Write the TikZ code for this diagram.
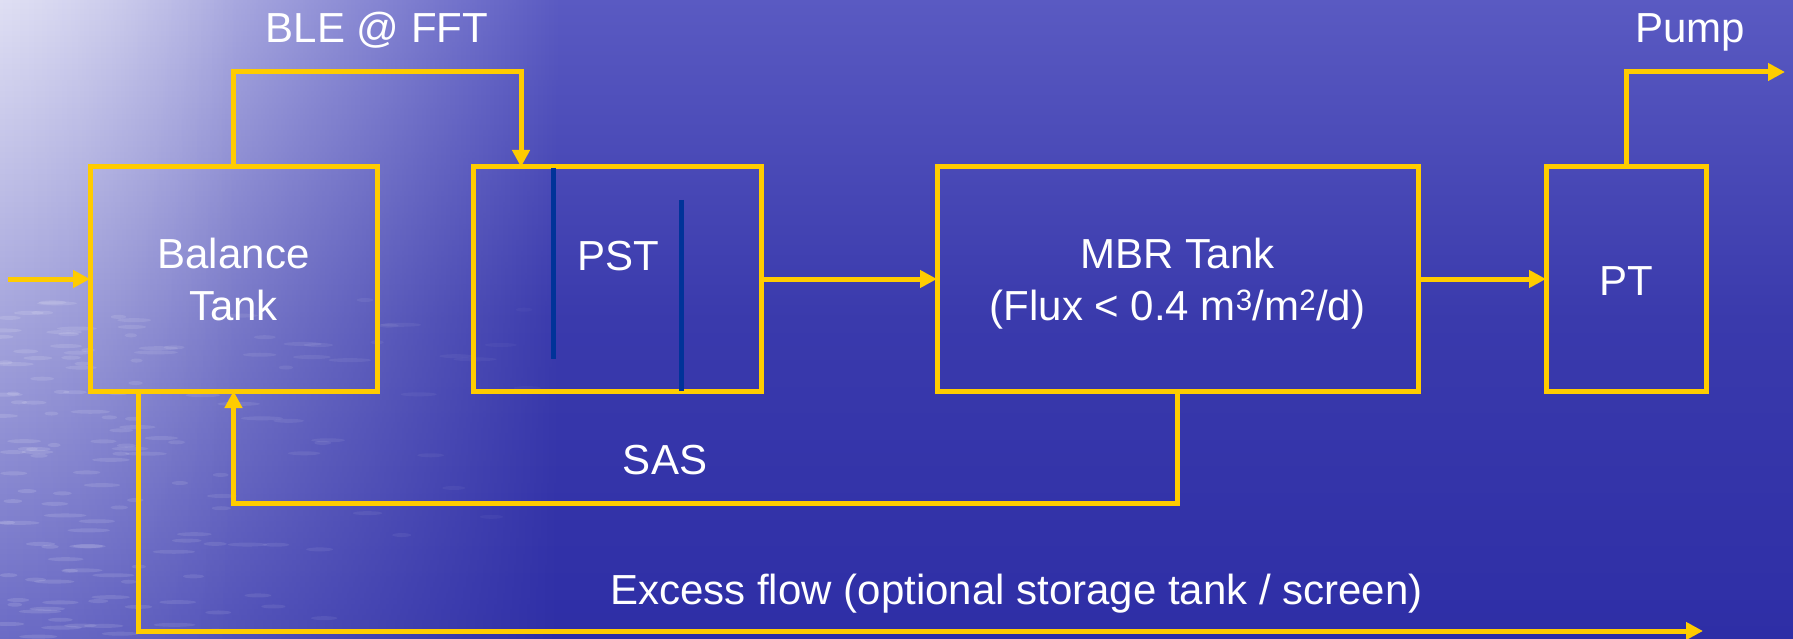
\documentclass[tikz,border=0pt]{standalone}
\usepackage{fontspec}
\setmainfont{Liberation Sans}
\usetikzlibrary{arrows.meta,fadings,calc}
\definecolor{pipeyellow}{HTML}{FFCC00}
\definecolor{baffleblue}{HTML}{003399}
\definecolor{seatop}{HTML}{5A5AC2}
\definecolor{seamid}{HTML}{3A3AAC}
\definecolor{seabot}{HTML}{2E2EA6}
\definecolor{haze}{HTML}{E0E0F4}
\definecolor{hazelow}{HTML}{6C6CC6}
\tikzfading[name=fadetoeast, left color=transparent!0, right color=transparent!100]

\begin{document}
\begin{tikzpicture}[x=1pt, y=-1pt,
  tank/.style={draw=pipeyellow, line width=5pt, minimum height=224pt,
               inner sep=0pt, outer sep=0pt},
  duct/.style={draw=pipeyellow, line width=5pt, line join=miter},
  flowarrow/.style={duct, -{Triangle[length=17pt,width=17pt]}},
  baffle/.style={draw=baffleblue, line width=5pt},
  lbl/.style={text=white, font=\fontsize{42}{50}\selectfont, anchor=base, inner sep=0pt}]

% sea background
\useasboundingbox (0,0) rectangle (1793,639);
\shade[top color=seatop, bottom color=seabot, middle color=seamid] (0,0) rectangle (1793,639);
\shade[top color=haze, bottom color=hazelow, path fading=fadetoeast] (0,0) rectangle (560,639);
\shade[top color=haze, bottom color=hazelow, path fading=fadetoeast, opacity=0.5] (0,0) rectangle (240,639);
% ripples on the water
\pgfmathsetseed{7}
\foreach \i in {1,...,150} {
  \pgfmathsetmacro\rx{650*rnd*rnd}
  \pgfmathsetmacro\ry{300+339*rnd}
  \pgfmathsetmacro\rw{6+16*rnd}
  \pgfmathsetmacro\op{0.13*(1-\rx/700)}
  \fill[white, opacity=\op] (\rx,\ry) ellipse ({\rw} and 2);
}

% tanks
\node[tank, minimum width=287pt] (bal) at (233.5,279) {};
\node[tank, minimum width=288pt] (pst) at (617,279) {};
\node[tank, minimum width=481pt] (mbr) at (1177.5,279) {};
\node[tank, minimum width=160pt] (pt)  at (1626,279) {};

% baffles in the settling tank
\draw[baffle] (553,168) -- (553,359);
\draw[baffle] (681,200) -- (681,391);

% routing points
\coordinate (feed)   at (8,279);
\coordinate (bleL)   at (233.5,72);
\coordinate (bleR)   at (521,72);
\coordinate (pumpK)  at (1626,72);
\coordinate (pumpE)  at (1785,72);
\coordinate (sasR)   at (1177.5,503);
\coordinate (sasL)   at (233.5,503);
\coordinate (exTop)  at ([xshift=48pt]bal.south west);
\coordinate (exBot)  at (138,631);
\coordinate (exEnd)  at (1703,631);

% flows
\draw[flowarrow] (feed) -- (bal.west);
\draw[flowarrow] (bal.north) -- (bleL) -- (bleR) -- (bleR |- pst.north);
\draw[flowarrow] (pst.east) -- (mbr.west);
\draw[flowarrow] (mbr.east) -- (pt.west);
\draw[flowarrow] (pt.north) -- (pumpK) -- (pumpE);
\draw[flowarrow] (mbr.south) -- (sasR) -- (sasL) -- (bal.south);
\draw[flowarrow] (exTop) -- (exBot) -- (exEnd);

% labels
\node[lbl] (tBLE)  at (377,43) {BLE @ FFT};
\node[lbl] (tPump) at (1690,43) {Pump};
\node[lbl] (tBal1) at (233.5,268) {Balance};
\node[lbl] (tBal2) at (233.5,320) {Tank};
\node[lbl] (tPST)  at (618,270) {PST};
\node[lbl] (tMBR1) at (1177.5,268) {MBR Tank};
\node[lbl] (tMBR2) at (1177.5,320) {(Flux < 0.4 m\textsuperscript{3}/m\textsuperscript{2}/d)};
\node[lbl] (tPT)   at (1626,295) {PT};
\node[lbl] (tSAS)  at (665,474) {SAS};
\node[lbl] (tEx)   at (1016.5,604) {Excess flow (optional storage tank / screen)};
\end{tikzpicture}
\end{document}
